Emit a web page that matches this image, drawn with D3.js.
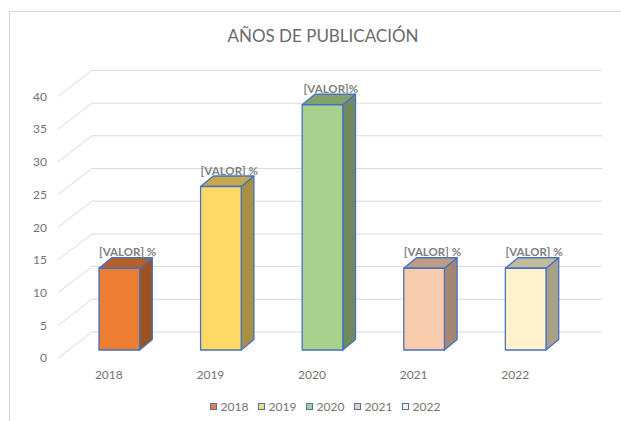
<!DOCTYPE html>
<html><head><meta charset="utf-8">
<script src="https://cdn.jsdelivr.net/npm/d3@7"></script>
<style>body{margin:0;background:#fff}svg{display:block}text{font-family:Lato,"Open Sans",sans-serif}</style>
</head><body><svg id="c" width="621" height="421"></svg>
<script>
const categories = ["2018","2019","2020","2021","2022"];
const values = [12.5, 25, 37.5, 12.5, 12.5];
const labels = ["[VALOR] %","[VALOR] %","[VALOR]%","[VALOR] %","[VALOR] %"];
const colors = ["#ED7D31","#FFD966","#A9D18E","#F8CBAD","#FFF2CC"];
const yTicks = [0,5,10,15,20,25,30,35,40];
const title = "AÑOS DE PUBLICACIÓN";

const svg = d3.select("#c");
const gray = "#737373";
// chart frame
svg.append("path").attr("d","M9.5,421 V11.5 H621").attr("fill","none").attr("stroke","#d9d9d9").attr("stroke-width",1.2);

const wall = {dx:34, dy:-26};      // depth offset of back wall
const barFront = {dx:10.5, dy:-8}; // bar front face offset
const barDepth = {dx:12.7, dy:-10.5};

const x = d3.scaleBand().domain(categories).range([58,566]).paddingInner(0.6).paddingOuter(0.3);
const y = d3.scaleLinear().domain([0,40]).range([358, 96.4]);

svg.append("text").attr("x",323).attr("y",42).attr("text-anchor","middle")
  .attr("font-size",18).attr("fill","#6a6a6a").attr("textLength",191).attr("lengthAdjust","spacingAndGlyphs").text(title);

// gridlines: side wall diagonal + back wall horizontal
const grid = svg.append("g").attr("stroke","#d9d9d9").attr("stroke-width",1).attr("fill","none");
yTicks.forEach(t=>{
  const yf = y(t);
  grid.append("path").attr("d",`M${x.range()[0]},${yf} L${x.range()[0]+wall.dx},${yf+wall.dy} L${x.range()[1]+wall.dx+2},${yf+wall.dy}`);
});
// y axis labels
svg.append("g").selectAll("text").data(yTicks).join("text")
  .attr("x",47).attr("y",d=>y(d)).attr("dy","0.36em").attr("text-anchor","end")
  .attr("font-size",12).attr("fill",gray).text(d=>d);
// x axis labels
svg.append("g").selectAll("text").data(categories).join("text")
  .attr("x",d=>x(d)+x.bandwidth()/2).attr("y",375).attr("dy","0.36em").attr("text-anchor","middle")
  .attr("font-size",12).attr("fill",gray).text(d=>d);

function shade(c,k){const r=d3.rgb(c);return d3.rgb(r.r*k,r.g*k,r.b*k).formatHex();}
const bars = svg.append("g");
categories.forEach((cat,i)=>{
  const x0 = x(cat)+barFront.dx, x1 = x0 + x.bandwidth();
  const yb = y(0)+barFront.dy, yt = y(values[i])+barFront.dy;
  const dx = barDepth.dx, dy = barDepth.dy;
  const g = bars.append("g").attr("stroke","#4472C4").attr("stroke-width",1.3).attr("stroke-linejoin","round");
  g.append("path").attr("d",`M${x1},${yb} L${x1+dx},${yb+dy} L${x1+dx},${yt+dy} L${x1},${yt} Z`).attr("fill",shade(colors[i],0.66));
  g.append("path").attr("d",`M${x0},${yt} L${x0+dx},${yt+dy} L${x1+dx},${yt+dy} L${x1},${yt} Z`).attr("fill",shade(colors[i],0.77));
  g.append("rect").attr("x",x0).attr("y",yt).attr("width",x1-x0).attr("height",yb-yt).attr("fill",colors[i]);
  svg.append("text").attr("x",(x0+x1+dx)/2+2).attr("y",yt+dy-1.5).attr("text-anchor","middle")
    .attr("font-size",11.5).attr("font-weight","bold").attr("fill","#808080").text(labels[i]);
});

// legend
const lg = svg.append("g");
categories.forEach((cat,i)=>{
  const lx = 210 + i*48;
  lg.append("rect").attr("x",lx+0.5).attr("y",403.5).attr("width",6).attr("height",6)
    .attr("fill",colors[i]).attr("stroke","#4472C4").attr("stroke-width",1);
  lg.append("text").attr("x",lx+10.5).attr("y",406.5).attr("dy","0.36em").attr("font-size",12).attr("fill",gray).text(cat);
});
</script></body></html>
